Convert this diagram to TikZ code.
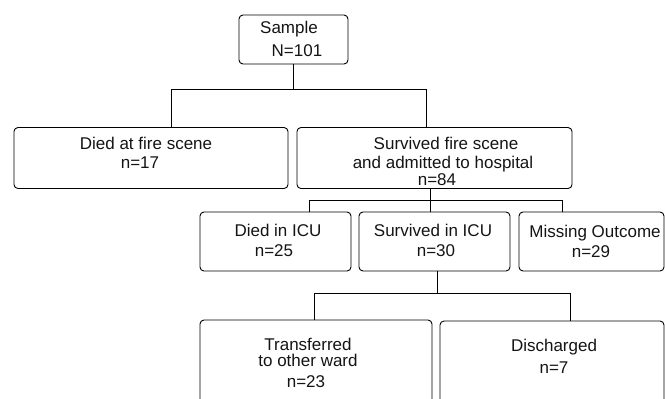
\documentclass[tikz,border=0pt]{standalone}
\usepackage{fontspec}
\setmainfont{Liberation Sans}
\usetikzlibrary{fit}
\begin{document}
\begin{tikzpicture}[x=1bp,y=-1bp,
  box/.style={draw, rounded corners=4bp, line width=0.9bp, inner sep=0pt},
  txt/.style={anchor=base, inner sep=0pt, text=black!92, font=\fontsize{17bp}{20bp}\selectfont},
  link/.style={line width=0.9bp}]
\useasboundingbox (0,0) rectangle (665,398);
\clip (0,0) rectangle (665,398);
% boxes
\node[box, fit={(239,15) (348,64)}] (sample) {};
\node[box, fit={(14,127.5) (288,188.5)}] (died) {};
\node[box, fit={(297,127.5) (572,188.5)}] (surv) {};
\node[box, fit={(200,212) (351,271)}] (dicu) {};
\node[box, fit={(359,212) (510,271)}] (sicu) {};
\node[box, fit={(519,212) (664,271)}] (miss) {};
\node[box, fit={(200,320) (432,412)}] (trans) {};
\node[box, fit={(440,321) (664,412)}] (disc) {};
% texts
\node[txt] (tsa) at (289,33) {Sample};
\node[txt] (tsb) at (297,56) {N=101};
\node[txt] (tda) at (146,149) {Died at fire scene};
\node[txt] (tdb) at (140,168) {n=17};
\node[txt] (tua) at (446,149) {Survived fire scene};
\node[txt] (tub) at (443,168) {and admitted to hospital};
\node[txt] (tuc) at (437,185) {n=84};
\node[txt] (tia) at (278,236) {Died in ICU};
\node[txt] (tib) at (274,256) {n=25};
\node[txt] (tsia) at (433,236) {Survived in ICU};
\node[txt] (tsib) at (436,256) {n=30};
\node[txt] (tma) at (595,237) {Missing Outcome};
\node[txt] (tmb) at (591,257) {n=29};
\node[txt] (tta) at (308,350) {Transferred};
\node[txt] (ttb) at (308,366) {to other ward};
\node[txt] (ttc) at (306,387) {n=23};
\node[txt] (tca) at (554,351) {Discharged};
\node[txt] (tcb) at (554,373) {n=7};
% junctions
\coordinate (j1l) at (171,89);
\coordinate (j1r) at (426,89);
\coordinate (j2l) at (309,200);
\coordinate (j2m) at (430,200);
\coordinate (j2r) at (562,200);
\coordinate (j3l) at (314,293);
\coordinate (j3m) at (437,293);
\coordinate (j3r) at (570,293);
% connectors
\draw[link] (sample.south) -- (sample.south |- j1l);
\draw[link] (died.north -| j1l) -- (j1l) -- (j1r) -- (surv.north -| j1r);
\draw[link] (surv.south -| j2m) -- (sicu.north -| j2m);
\draw[link] (dicu.north -| j2l) -- (j2l) -- (j2r) -- (miss.north -| j2r);
\draw[link] (sicu.south -| j3m) -- (j3m);
\draw[link] (trans.north -| j3l) -- (j3l) -- (j3r) -- (disc.north -| j3r);
\end{tikzpicture}
\end{document}
